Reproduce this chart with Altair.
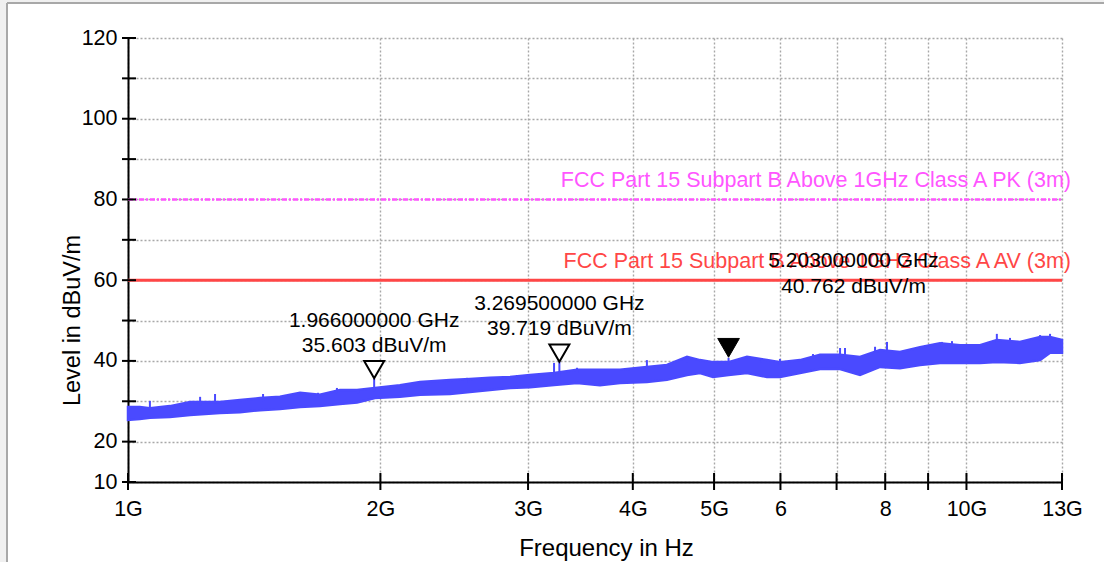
import altair as alt
import pandas as pd

# Measured spectrum, drawn as the band between the trace's upper and lower envelope
trace_freq = [1.000, 1.033, 1.062, 1.122, 1.186, 1.287, 1.360, 1.437, 1.518, 1.604,
              1.694, 1.790, 1.876, 1.970, 2.110, 2.230, 2.421, 2.557, 2.702, 2.855,
              3.016, 3.222, 3.432, 3.655, 3.862, 4.158, 4.393, 4.642, 4.811, 4.985,
              5.203, 5.473, 5.782, 5.992, 6.331, 6.689, 7.067, 7.465, 7.887, 8.331,
              8.802, 9.299, 9.823, 10.38, 10.87, 11.58, 12.24, 12.58, 13.00]
trace_upper = [28.6, 28.6, 28.3, 28.8, 29.8, 29.8, 30.3, 30.8, 31.1, 32.1,
               31.6, 32.8, 32.8, 33.3, 34.0, 34.8, 35.3, 35.5, 35.8, 36.0,
               36.5, 37.0, 37.8, 37.8, 37.8, 38.5, 39.0, 41.0, 40.2, 39.7,
               39.7, 41.0, 40.2, 39.7, 40.2, 41.5, 41.5, 41.0, 42.7, 42.2,
               43.4, 44.4, 43.9, 43.9, 45.2, 44.7, 45.9, 45.9, 45.2]
trace_lower = [25.4, 25.6, 25.9, 26.1, 26.6, 27.1, 27.3, 27.8, 28.1, 28.6,
               28.8, 29.3, 29.7, 30.8, 31.1, 31.6, 31.8, 32.3, 32.8, 33.3,
               33.5, 34.0, 34.5, 34.0, 34.5, 34.8, 35.3, 36.5, 37.0, 36.0,
               36.5, 37.0, 36.0, 36.0, 37.0, 38.0, 38.0, 36.5, 38.5, 38.2,
               39.0, 39.5, 39.5, 39.5, 39.7, 39.5, 40.2, 42.0, 42.0]

# Narrow peaks standing out of the trace
spike_freq = [1.062, 1.219, 1.270, 1.449, 1.595, 1.685, 1.775, 1.881, 1.966, 2.242,
              2.536, 2.651, 2.910, 3.222, 3.2695, 3.432, 4.158, 4.642, 5.203, 5.703,
              5.992, 6.561, 7.067, 7.164, 7.780, 8.040, 8.925, 9.349, 9.610, 10.87,
              11.27, 12.24, 12.58]
spike_top = [30.1, 31.1, 31.8, 31.8, 32.3, 32.1, 33.3, 33.0, 35.603, 34.8,
             35.8, 35.8, 36.5, 39.5, 39.719, 38.3, 40.2, 41.2, 40.762, 40.7,
             40.5, 41.7, 43.2, 43.2, 43.5, 44.7, 43.9, 44.7, 44.9, 46.7,
             45.7, 46.4, 46.7]
spike_base = [28.0, 29.0, 29.5, 30.0, 31.0, 31.0, 32.0, 32.0, 32.5, 33.5,
              34.5, 34.5, 35.5, 36.0, 36.0, 37.0, 38.0, 39.5, 39.0, 39.5,
              39.0, 40.5, 41.0, 41.0, 42.0, 42.5, 43.0, 43.5, 43.5, 44.5,
              44.5, 45.0, 45.5]

# Limit lines
limit_names = ["FCC Part 15 Subpart B Above 1GHz Class A PK (3m)",
               "FCC Part 15 Subpart B Above 1GHz Class A AV (3m)"]
limit_levels = [80, 60]

# Peak markers (the last one is the active marker)
marker_freq = [1.966, 3.2695, 5.203]
marker_level = [35.603, 39.719, 40.762]

# Axis ticks
x_tick_values = [1, 2, 3, 4, 5, 6, 7, 8, 9, 10, 13]
x_tick_labels = ["1G", "2G", "3G", "4G", "5G", "6", "", "8", "", "10G", "13G"]
y_tick_values = [10, 20, 30, 40, 50, 60, 70, 80, 90, 100, 110, 120]
y_tick_labels = ["10", "20", "", "40", "", "60", "", "80", "", "100", "", "120"]

FONT = "Liberation Sans"
W, H = 934, 444
TRACE = "#4a4aff"
GRID = dict(grid=True, gridColor="#a8a8a8", gridDash=[2, 2], gridWidth=1.4)


def label_expr(values, labels):
    parts = [f"datum.value == {v} ? '{lab}'" for v, lab in zip(values, labels)]
    return " : ".join(parts) + " : ''"


trace = pd.DataFrame({"f": trace_freq, "hi": trace_upper, "lo": trace_lower})
spikes = pd.DataFrame({"f": spike_freq, "hi": spike_top, "lo": spike_base})
limits = pd.DataFrame({"name": limit_names, "hi": limit_levels,
                       "f": trace_freq[0], "f1": trace_freq[-1]})
markers = pd.DataFrame({
    "f": marker_freq,
    "hi": marker_level,
    "ftxt": [f"{f:.9f} GHz" for f in marker_freq],
    "ltxt": [f"{v:.3f} dBuV/m" for v in marker_level],
})
xticks = pd.DataFrame({"f": x_tick_values})
yticks = pd.DataFrame({"hi": y_tick_values})

xs = alt.Scale(type="log", domain=[1, 13], nice=False)
ys = alt.Scale(domain=[10, 120], nice=False, zero=False)

x_axis = alt.Axis(values=x_tick_values, labelExpr=label_expr(x_tick_values, x_tick_labels),
                  ticks=False, domainColor="black", domainWidth=2, labelFlush=False,
                  labelFontSize=21.5, labelPadding=16, labelColor="black", **GRID,
                  title="Frequency in Hz", titleFontSize=24, titleFontWeight="normal",
                  titleX=478, titleY=73, titleBaseline="alphabetic", titleAlign="center",
                  titleColor="black")
y_axis = alt.Axis(values=y_tick_values, labelExpr=label_expr(y_tick_values, y_tick_labels),
                  ticks=False, domainColor="black", domainWidth=2, labelFlush=False,
                  labelFontSize=21.5, labelPadding=11, labelColor="black", **GRID,
                  title="Level in dBuV/m", titleFontSize=23.5, titleFontWeight="normal",
                  titleAngle=270, titleX=-56, titleY=282, titleBaseline="middle",
                  titleAlign="center", titleColor="black")

X = alt.X("f:Q", scale=xs, axis=x_axis)
Y = alt.Y("hi:Q", scale=ys, axis=y_axis)

one = pd.DataFrame({"k": [0]})

# light grey margin outside the panel, and the panel's thin grey edge
top_strip = alt.Chart(one).mark_rect(fill="#f0f0f0").encode(
    x=alt.value(-128), x2=alt.value(1000), y=alt.value(-38), y2=alt.value(-35))
left_strip = alt.Chart(one).mark_rect(fill="#f0f0f0").encode(
    x=alt.value(-128), x2=alt.value(-121), y=alt.value(-38), y2=alt.value(600))
top_edge = alt.Chart(one).mark_rule(color="#a8a8a8", strokeWidth=2).encode(
    x=alt.value(-121), x2=alt.value(1000), y=alt.value(-35))
left_edge = alt.Chart(one).mark_rule(color="#a8a8a8", strokeWidth=2).encode(
    x=alt.value(-121), y=alt.value(-35), y2=alt.value(600))

band = alt.Chart(trace).mark_area(color=TRACE, opacity=1, stroke=TRACE,
                                  strokeWidth=2.5).encode(x=X, y=Y, y2="lo:Q")

spike_rules = alt.Chart(spikes).mark_rule(color=TRACE, strokeWidth=2).encode(
    x=X, y=Y, y2="lo:Q")

pk_line = alt.Chart(limits).transform_filter(
    alt.datum.name == limit_names[0]).mark_rule(
    color="#ff55ff", strokeWidth=2.5, strokeDash=[5, 2, 2, 2]).encode(x=X, x2="f1:Q", y=Y)

av_line = alt.Chart(limits).transform_filter(
    alt.datum.name == limit_names[1]).mark_rule(
    color="#ff4646", strokeWidth=3).encode(x=X, x2="f1:Q", y=Y)

limit_text = alt.Chart(limits).mark_text(
    align="right", baseline="alphabetic", dx=9, dy=-12, fontSize=21.5, font=FONT).encode(
    x=alt.X("f1:Q", scale=xs, axis=x_axis),
    y=Y,
    text="name:N",
    color=alt.Color("name:N", scale=alt.Scale(domain=limit_names,
                                              range=["#ff55ff", "#ff4646"]), legend=None))

y_tick_marks = alt.Chart(yticks).mark_rule(color="black", strokeWidth=2).encode(
    y=Y, x=alt.value(-6), x2=alt.value(8))
x_tick_marks = alt.Chart(xticks).mark_rule(color="black", strokeWidth=2).encode(
    x=X, y=alt.value(H - 9), y2=alt.value(H + 8))

open_markers = alt.Chart(markers.iloc[:2]).mark_point(
    shape="triangle-down", size=400, fill="white", stroke="black", strokeWidth=2,
    opacity=1, fillOpacity=1, yOffset=-9).encode(x=X, y=Y)
active_marker = alt.Chart(markers.iloc[2:]).mark_point(
    shape="triangle-down", size=470, fill="black", stroke="black", strokeWidth=1,
    opacity=1, fillOpacity=1, yOffset=-10).encode(x=X, y=Y)


def marker_text(df, field, dx, dy):
    return alt.Chart(df).mark_text(
        align="center", baseline="alphabetic", fontSize=21, font=FONT, color="black",
        dx=dx, dy=dy).encode(x=X, y=Y, text=f"{field}:N")


texts = [
    marker_text(markers.iloc[:2], "ftxt", 0, -52),
    marker_text(markers.iloc[:2], "ltxt", 0, -27),
    marker_text(markers.iloc[2:], "ftxt", 125, -91),
    marker_text(markers.iloc[2:], "ltxt", 125, -65),
]

chart = alt.layer(
    top_strip, left_strip, top_edge, left_edge,
    band, spike_rules, pk_line, av_line, limit_text, *texts,
    y_tick_marks, x_tick_marks, open_markers, active_marker
).properties(
    width=W, height=H,
    autosize=alt.AutoSizeParams(type="none"),
    padding={"left": 128, "top": 38, "right": 42, "bottom": 80},
    background="white",
).configure(font=FONT).configure_view(stroke=None)

chart.save("out.html", embed_options={"renderer": "svg", "actions": False})
